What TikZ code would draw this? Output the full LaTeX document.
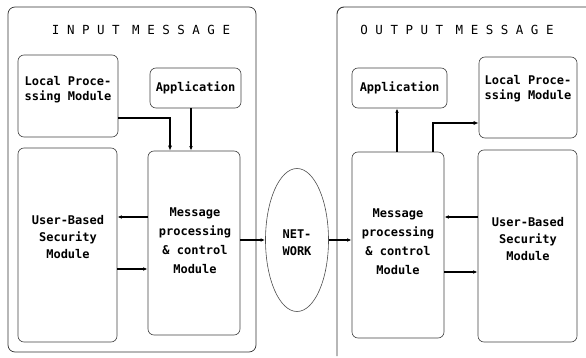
\documentclass[tikz,border=0pt]{standalone}
\usepackage{fontspec}
\setmonofont{DejaVu Sans Mono}
\usetikzlibrary{arrows.meta,shapes.geometric}

\tikzset{
  module/.style={draw=black!75, line width=0.6pt, rounded corners=6pt, inner sep=0pt},
  frame/.style={draw=black!80, line width=0.7pt, rounded corners=7pt},
  modtext/.style={font=\ttfamily\bfseries\fontsize{12}{15}\selectfont, align=center, inner sep=0pt},
  title/.style={font=\ttfamily\fontsize{12.5}{15}\selectfont, inner sep=0pt},
  link/.style={line width=1.2pt, -{Latex[length=4.5pt,width=3.5pt]}},
  heavylink/.style={line width=2pt, -{Latex[length=5pt,width=4pt]}},
}

\begin{document}
\begin{tikzpicture}[x=1pt, y=-1pt]
  \useasboundingbox (0,0) rectangle (586,358);

  % frames of the two sides
  \draw[frame] (8,7) rectangle (256,352);
  \draw[frame, line width=0.9pt] (586,7) -- (337,7) -- (337,356);

  \node[title] (tin)  at (141,30) {I N P U T\hspace{5pt} M E S S A G E};
  \node[title] (tout) at (457,30) {O U T P U T\hspace{5pt} M E S S A G E};

  % input side
  \node[module, minimum width=100pt, minimum height=82pt]  (lpL) at (68,96)    {};
  \node[module, minimum width=91pt,  minimum height=40pt]  (apL) at (195.5,88) {};
  \node[module, minimum width=99pt,  minimum height=194pt] (usL) at (67.5,245) {};
  \node[module, minimum width=92pt,  minimum height=184pt] (mpL) at (194,243)  {};

  \node[modtext, align=left] (lpLt) at (68,90) {Local Proce-\\ssing Module};
  \node[modtext] (apLt) at (195.5,88) {Application};
  \node[modtext] (usLt) at (68,237) {User-Based\\[2pt]Security\\[2pt]Module};
  \node[modtext] (mpLt) at (195,241) {Message\\[4pt]processing\\[4pt]\& control\\[4pt]Module};

  % network
  \node[draw=black!70, line width=0.6pt, ellipse, minimum width=63pt, minimum height=143pt, inner sep=0pt] (net) at (297,240) {};
  \node[modtext] (nett) at (297,243) {NET-\\[2pt]WORK};

  % output side
  \node[module, minimum width=95pt, minimum height=40pt]  (apR) at (399.5,88) {};
  \node[module, minimum width=98pt, minimum height=81pt]  (lpR) at (528,97.5) {};
  \node[module, minimum width=92pt, minimum height=186pt] (mpR) at (398,245)  {};
  \node[module, minimum width=99pt, minimum height=192pt] (usR) at (527.5,246) {};

  \node[modtext] (apRt) at (399.5,88) {Application};
  \node[modtext, align=left] (lpRt) at (528,89) {Local Proce-\\ssing Module};
  \node[modtext] (mpRt) at (398,242) {Message\\[4pt]processing\\[4pt]\& control\\[4pt]Module};
  \node[modtext] (usRt) at (528,239) {User-Based\\[2pt]Security\\[2pt]Module};

  % bend and track positions of the connectors
  \coordinate (kL) at (170,118);
  \coordinate (aL) at (191,0);
  \coordinate (uL) at (0,217);
  \coordinate (dL) at (0,269);
  \coordinate (kR) at (433,123);
  \coordinate (aR) at (397,0);
  \coordinate (uR) at (0,217);
  \coordinate (dR) at (0,272);

  % input side connectors
  \draw[heavylink] (lpL.east |- kL) -| (kL |- mpL.north);
  \draw[link] (aL |- apL.south) -- (aL |- mpL.north);
  \draw[link] (mpL.west |- uL) -- (usL.east |- uL);
  \draw[link] (usL.east |- dL) -- (mpL.west |- dL);

  % through the network
  \draw[link] (mpL.east |- net.west) -- (net.west);
  \draw[link] (net.east) -- (mpR.west |- net.east);

  % output side connectors
  \draw[link] (aR |- mpR.north) -- (aR |- apR.south);
  \draw[heavylink] (kR |- mpR.north) |- (lpR.west |- kR);
  \draw[link] (usR.west |- uR) -- (mpR.east |- uR);
  \draw[link] (mpR.east |- dR) -- (usR.west |- dR);
\end{tikzpicture}
\end{document}
